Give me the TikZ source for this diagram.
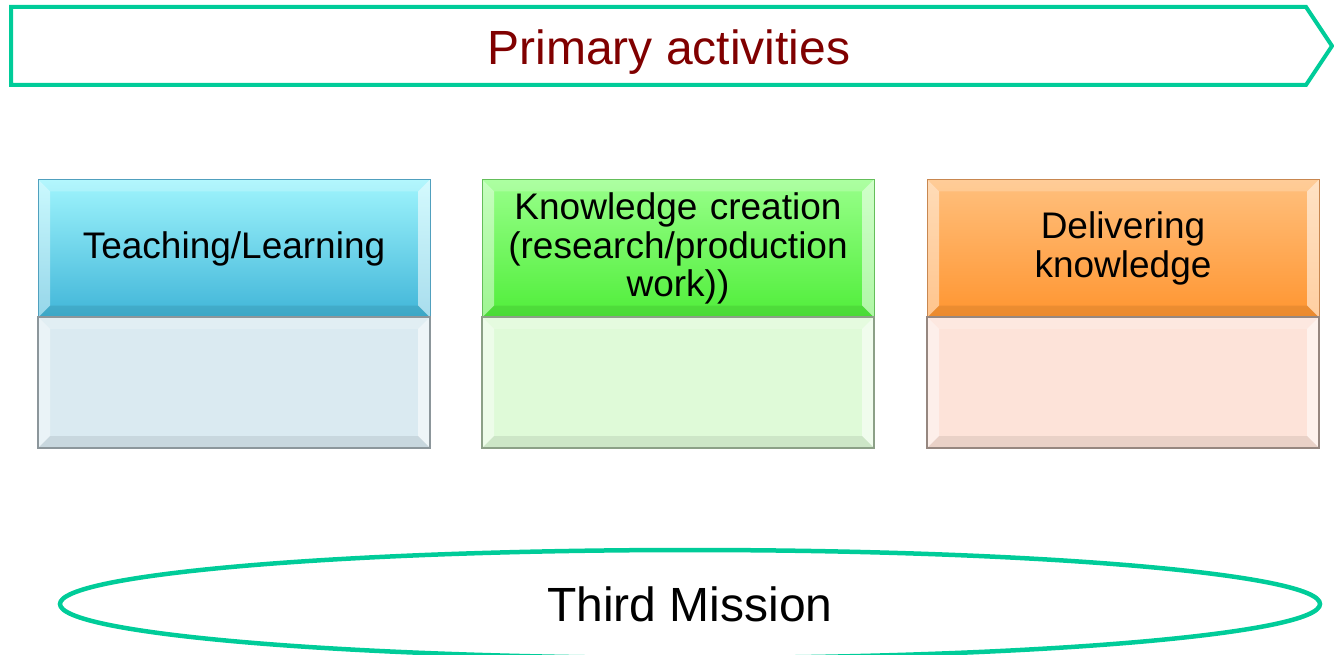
\documentclass[tikz,border=0pt]{standalone}
\usepackage{fontspec}
\setmainfont{Liberation Sans}
\usetikzlibrary{shapes.geometric}
\definecolor{mint}{RGB}{0,204,153}
\definecolor{titlered}{RGB}{128,0,0}
% teaching colours
\definecolor{teachline}{RGB}{80,160,190}
\definecolor{teachtop}{RGB}{160,245,253}
\definecolor{teachbot}{RGB}{64,181,216}
\definecolor{teachbaseline}{RGB}{140,150,155}
\definecolor{teachbasefill}{RGB}{218,234,241}
% creation colours
\definecolor{createline}{RGB}{100,190,90}
\definecolor{createtop}{RGB}{152,255,138}
\definecolor{createbot}{RGB}{80,238,58}
\definecolor{createbaseline}{RGB}{140,160,135}
\definecolor{createbasefill}{RGB}{223,250,216}
% delivering colours
\definecolor{deliverline}{RGB}{200,135,80}
\definecolor{delivertop}{RGB}{255,192,126}
\definecolor{deliverbot}{RGB}{255,149,48}
\definecolor{deliverbaseline}{RGB}{150,135,128}
\definecolor{deliverbasefill}{RGB}{253,227,217}
\newcommand{\bevelshade}{%
	\fill[white,opacity=.45] (path picture bounding box.north west)--(path picture bounding box.south west)--([shift={(12pt,12pt)}]path picture bounding box.south west)--([shift={(12pt,-12pt)}]path picture bounding box.north west)--cycle;
	\fill[white,opacity=.55] (path picture bounding box.north east)--(path picture bounding box.south east)--([shift={(-12pt,12pt)}]path picture bounding box.south east)--([shift={(-12pt,-12pt)}]path picture bounding box.north east)--cycle;
	\fill[white,opacity=.2] (path picture bounding box.north west)--(path picture bounding box.north east)--([shift={(-12pt,-12pt)}]path picture bounding box.north east)--([shift={(12pt,-12pt)}]path picture bounding box.north west)--cycle;
	\fill[black,opacity=.08] (path picture bounding box.south west)--(path picture bounding box.south east)--([shift={(-12pt,12pt)}]path picture bounding box.south east)--([shift={(12pt,12pt)}]path picture bounding box.south west)--cycle;}
\tikzset{
	headbox/.style={draw=#1line, top color=#1top, bottom color=#1bot, line width=1pt, inner sep=0pt, minimum width=392pt, minimum height=138pt, text width=385pt, align=center, font=\fontsize{37}{38.5}\selectfont, path picture={\bevelshade}},
	basebox/.style={draw=#1baseline, fill=#1basefill, line width=1.5pt, inner sep=0pt, minimum width=392pt, minimum height=131pt, path picture={\bevelshade}}
}

\begin{document}
\begin{tikzpicture}[x=1pt,y=-1pt]
	\useasboundingbox (0,0) rectangle (1334,655);
	
	\draw[mint, line width=4pt, line join=miter] (11,7)--(1306,7)--(1332,46)--(1306,85)--(11,85)--cycle;
	\node (title) [anchor=base] at (669,65) {\fontsize{48}{56}\selectfont\color{titlered}Primary activities};
	
	\node (teach) [headbox=teach] at (234,248.5) {Teaching/Learning};
	\node (teachbase) [basebox=teach] at (234,382.5) {};
	
	\node (create) [headbox=create] at (678,248.5) {Knowledge creation\\(research/production\\work))};
	\node (createbase) [basebox=create] at (678,382.5) {};
	
	\node (deliver) [headbox=deliver] at (1123,248.5) {Delivering\\knowledge};
	\node (deliverbase) [basebox=deliver] at (1123,382.5) {};
	
	\node (third) [ellipse, draw=mint, line width=4.5pt, inner sep=0pt, minimum width=1260pt, minimum height=108pt] at (690,604) {\fontsize{48}{56}\selectfont Third Mission};
\end{tikzpicture}
\end{document}
